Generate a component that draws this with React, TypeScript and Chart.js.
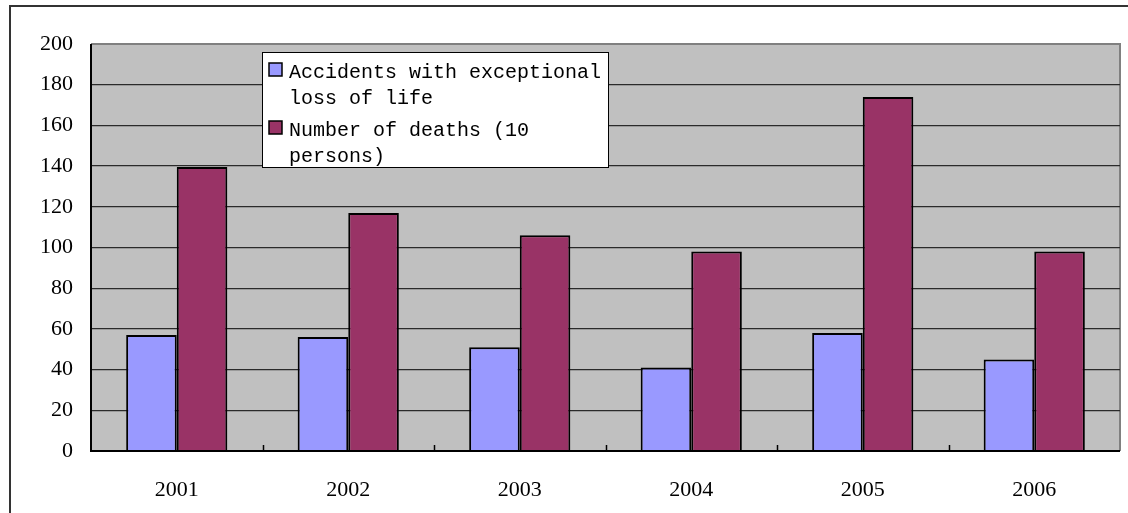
import React, { useEffect, useRef } from "react";
import { Chart, registerables } from "chart.js";

Chart.register(...registerables);

const categories = ["2001", "2002", "2003", "2004", "2005", "2006"];
const accidents = [57, 56, 51, 41, 58, 45];
const deaths = [139.5, 117, 106, 98, 174, 98];
const seriesLabels = ["Accidents with exceptional loss of life", "Number of deaths (10 persons)"];
const legendLines = [
  ["Accidents with exceptional", "loss of life"],
  ["Number of deaths (10", "persons)"],
];
const yTicks = { min: 0, max: 200, step: 20 };

const BLUE = "#9999FF";
const RED = "#993366";

const framePlugin = {
  id: "framePlugin",
  beforeDraw(chart: any) {
    const { ctx, chartArea } = chart;
    const { left, right, top, bottom } = chartArea;
    ctx.save();
    ctx.fillStyle = "#ffffff";
    ctx.fillRect(0, 0, chart.width, chart.height);
    ctx.strokeStyle = "#333333";
    ctx.lineWidth = 2;
    ctx.beginPath();
    ctx.moveTo(10, chart.height + 5);
    ctx.lineTo(10, 6);
    ctx.lineTo(chart.width + 5, 6);
    ctx.stroke();
    ctx.fillStyle = "#C0C0C0";
    ctx.fillRect(left, top, right - left, bottom - top);
    ctx.strokeStyle = "#808080";
    ctx.lineWidth = 2;
    ctx.beginPath();
    ctx.moveTo(left, top);
    ctx.lineTo(right, top);
    ctx.lineTo(right, bottom);
    ctx.stroke();
    ctx.restore();
  },
  afterDatasetsDraw(chart: any) {
    const { ctx, chartArea } = chart;
    const xs = chart.scales.x;
    const n = categories.length;
    const w = (chartArea.right - chartArea.left) / n;
    ctx.save();
    ctx.strokeStyle = "#000";
    ctx.lineWidth = 1.5;
    ctx.beginPath();
    for (let i = 1; i < n; i++) {
      const x = Math.round(xs.left + i * w) + 0.5;
      ctx.moveTo(x, chartArea.bottom);
      ctx.lineTo(x, chartArea.bottom - 6);
    }
    ctx.stroke();
    ctx.lineWidth = 2;
    ctx.beginPath();
    ctx.moveTo(chartArea.left, chartArea.top);
    ctx.lineTo(chartArea.left, chartArea.bottom);
    ctx.lineTo(chartArea.right, chartArea.bottom);
    ctx.stroke();
    ctx.restore();
  },
  afterDraw(chart: any) {
    const { ctx } = chart;
    ctx.save();
    const bx = 262, by = 52, bw = 346, bh = 115;
    ctx.fillStyle = "#fff";
    ctx.fillRect(bx, by, bw, bh);
    ctx.strokeStyle = "#000";
    ctx.lineWidth = 1;
    ctx.strokeRect(bx + 0.5, by + 0.5, bw, bh);
    const colors = [BLUE, RED];
    const baseY = [78, 136];
    ctx.font = "20px 'Liberation Mono', monospace";
    ctx.textBaseline = "alphabetic";
    ctx.textAlign = "left";
    legendLines.forEach((lines, i) => {
      ctx.fillStyle = colors[i];
      ctx.fillRect(269, baseY[i] - 15, 13, 13);
      ctx.strokeStyle = "#000";
      ctx.lineWidth = 1.5;
      ctx.strokeRect(269, baseY[i] - 15, 13, 13);
      ctx.fillStyle = "#000";
      lines.forEach((t, j) => {
        ctx.fillText(t, 289, baseY[i] + j * 25.5);
      });
    });
    ctx.restore();
  },
};

export default function App() {
  const ref = useRef<HTMLCanvasElement>(null);
  useEffect(() => {
    document.body.style.margin = "0";
    const chart = new Chart(ref.current!, {
      type: "bar",
      data: {
        labels: categories,
        datasets: [
          {
            label: seriesLabels[0],
            data: accidents,
            backgroundColor: BLUE,
            borderColor: "#000",
            borderWidth: 2,
            categoryPercentage: 0.59,
            barPercentage: 1,
          },
          {
            label: seriesLabels[1],
            data: deaths,
            backgroundColor: RED,
            borderColor: "#000",
            borderWidth: 2,
            categoryPercentage: 0.59,
            barPercentage: 1,
          },
        ],
      },
      options: {
        animation: false,
        responsive: false,
        devicePixelRatio: 1,
        layout: { padding: { left: 0, top: 44, right: 8, bottom: 0 } },
        plugins: { legend: { display: false }, tooltip: { enabled: false } },
        scales: {
          x: {
            grid: { display: false },
            border: { display: false },
            ticks: {
              color: "#000",
              font: { family: "'Liberation Serif', serif", size: 22 },
              padding: 18,
              maxRotation: 0,
            },
            afterFit: (s: any) => {
              s.height = 62;
            },
          },
          y: {
            min: yTicks.min,
            max: yTicks.max,
            ticks: {
              stepSize: yTicks.step,
              color: "#000",
              font: { family: "'Liberation Serif', serif", size: 22 },
              padding: 18,
            },
            grid: {
              drawTicks: false,
              color: (c: any) => (c.tick && c.tick.value === 200 ? "rgba(0,0,0,0)" : "#2a2a2a"),
              lineWidth: 1.3,
            },
            border: { display: false },
            afterFit: (s: any) => {
              s.width = 91;
            },
          },
        },
      },
      plugins: [framePlugin],
    });
    return () => chart.destroy();
  }, []);
  return <canvas ref={ref} width={1128} height={513} style={{ display: "block" }} />;
}
